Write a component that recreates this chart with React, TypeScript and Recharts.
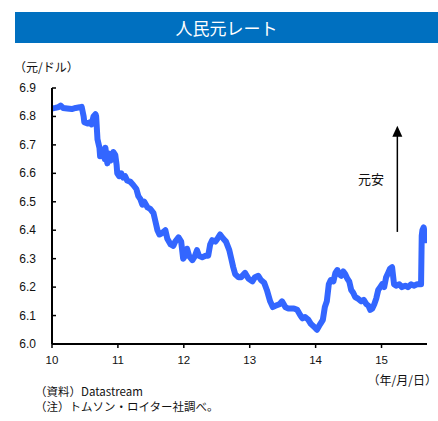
import React from "react";
import { LineChart, Line, XAxis, YAxis, ReferenceLine, ReferenceDot } from "recharts";

// decimal year (10 = 2010) and CNY per USD
const years: number[] = [
  10.0, 10.05, 10.1, 10.13, 10.17, 10.23, 10.3, 10.36, 10.42, 10.45, 10.48, 10.49, 10.54, 10.58, 10.6, 10.63, 10.66, 10.67,
  10.69, 10.72, 10.73, 10.77, 10.8, 10.81, 10.84, 10.86, 10.89, 10.92, 10.93, 10.96, 10.98, 10.99, 11.02, 11.05, 11.08,
  11.11, 11.14, 11.19, 11.23, 11.28, 11.31, 11.34, 11.37, 11.4, 11.45, 11.49, 11.54, 11.57, 11.6, 11.63, 11.67, 11.72,
  11.75, 11.8, 11.84, 11.87, 11.92, 11.96, 11.99, 12.02, 12.05, 12.08, 12.13, 12.17, 12.2, 12.23, 12.28, 12.33, 12.37,
  12.4, 12.43, 12.48, 12.51, 12.55, 12.6, 12.64, 12.69, 12.72, 12.75, 12.78, 12.83, 12.87, 12.93, 12.98, 13.04, 13.08,
  13.13, 13.17, 13.22, 13.26, 13.31, 13.35, 13.4, 13.45, 13.49, 13.54, 13.58, 13.63, 13.67, 13.72, 13.77, 13.8, 13.84,
  13.89, 13.93, 13.98, 14.02, 14.07, 14.11, 14.14, 14.17, 14.2, 14.23, 14.27, 14.3, 14.33, 14.36, 14.39, 14.42, 14.45,
  14.48, 14.51, 14.54, 14.57, 14.6, 14.64, 14.69, 14.73, 14.77, 14.8, 14.83, 14.86, 14.89, 14.92, 14.95, 14.98, 15.01,
  15.04, 15.07, 15.1, 15.13, 15.16, 15.17, 15.19, 15.22, 15.27, 15.31, 15.36, 15.4, 15.45, 15.49, 15.54, 15.58, 15.6,
  15.61, 15.62, 15.64, 15.66, 15.67, 15.68,
];
const rates: number[] = [
  6.828, 6.83, 6.833, 6.838, 6.83, 6.828, 6.826, 6.83, 6.832, 6.834, 6.8, 6.78, 6.775, 6.78, 6.772, 6.8, 6.808, 6.8,
  6.72, 6.69, 6.66, 6.68, 6.65, 6.69, 6.635, 6.67, 6.645, 6.66, 6.675, 6.665, 6.63, 6.6, 6.59, 6.6, 6.585,
  6.59, 6.575, 6.57, 6.56, 6.545, 6.52, 6.51, 6.49, 6.5, 6.48, 6.475, 6.46, 6.43, 6.4, 6.385, 6.39, 6.4,
  6.37, 6.35, 6.345, 6.36, 6.375, 6.36, 6.3, 6.31, 6.335, 6.31, 6.295, 6.31, 6.33, 6.31, 6.305, 6.31, 6.31,
  6.35, 6.365, 6.36, 6.37, 6.385, 6.37, 6.36, 6.33, 6.3, 6.27, 6.245, 6.235, 6.235, 6.25, 6.23, 6.22, 6.235,
  6.24, 6.225, 6.215, 6.19, 6.15, 6.13, 6.135, 6.14, 6.15, 6.13, 6.125, 6.125, 6.125, 6.12, 6.1, 6.09, 6.095,
  6.085, 6.07, 6.06, 6.05, 6.07, 6.085, 6.13, 6.15, 6.21, 6.225, 6.22, 6.25, 6.26, 6.245, 6.24, 6.255, 6.245,
  6.23, 6.22, 6.19, 6.18, 6.165, 6.16, 6.15, 6.155, 6.14, 6.135, 6.12, 6.125, 6.14, 6.16, 6.19, 6.2, 6.21,
  6.2, 6.235, 6.25, 6.265, 6.27, 6.25, 6.21, 6.205, 6.21, 6.2, 6.205, 6.2, 6.21, 6.205, 6.21, 6.21, 6.21,
  6.38, 6.4, 6.41, 6.38, 6.365, 6.37,
];
const xTicks: number[] = [10, 11, 12, 13, 14, 15];
const yTicks: number[] = [6.0, 6.1, 6.2, 6.3, 6.4, 6.5, 6.6, 6.7, 6.8, 6.9];
const arrowYear = 15.24;
const arrowFrom = 6.394;
const arrowTo = 6.74;
const arrowTip = 6.767;

const data = years.map((t, i) => ({ t, v: rates[i] }));

const numFont = "'Liberation Sans', Arial, sans-serif";
const jpFont = "'Noto Sans CJK JP', sans-serif";

const YTick = (props: any) => {
  const { y, payload } = props;
  return (
    <g>
      <line x1={52} y1={y} x2={56} y2={y} stroke="#000" strokeWidth={1.5} />
      <text x={36} y={y} dy={4} textAnchor="end" fontSize={12} fontFamily={numFont} fill="#111">
        {Number(payload.value).toFixed(1)}
      </text>
    </g>
  );
};

const XTick = (props: any) => {
  const { x, payload } = props;
  return (
    <text x={x} y={364} textAnchor="middle" fontSize={11.5} fontFamily={numFont} fill="#111">
      {payload.value}
    </text>
  );
};

const ArrowHead = (props: any) => {
  const { cx, cy } = props;
  if (cx == null || cy == null) return null;
  return <polygon points={`${cx},${cy} ${cx - 5},${cy + 11} ${cx + 5},${cy + 11}`} fill="#000" />;
};

export default function App() {
  return (
    <div style={{ position: "absolute", left: 0, top: 0, width: 438, height: 421, background: "#fff", overflow: "hidden" }}>
      <div
        style={{
          position: "absolute",
          left: 15,
          top: 12,
          width: 423,
          height: 31,
          background: "#0070C0",
          color: "#fff",
          fontFamily: jpFont,
          fontSize: 17,
          lineHeight: "31px",
          textAlign: "center",
        }}
      >
        人民元レート
      </div>
      <div style={{ position: "absolute", left: 14, top: 58, fontFamily: jpFont, fontSize: 12, color: "#111", whiteSpace: "nowrap" }}>
        （元/ドル）
      </div>
      <div style={{ position: "absolute", left: 358, top: 169, fontFamily: jpFont, fontSize: 13, color: "#111", whiteSpace: "nowrap" }}>
        元安
      </div>
      <div style={{ position: "absolute", right: 1, top: 371, fontFamily: jpFont, fontSize: 12, color: "#111", whiteSpace: "nowrap" }}>
        （年/月/日）
      </div>
      <div style={{ position: "absolute", left: 35, top: 384, fontFamily: jpFont, fontSize: 11.5, color: "#111", whiteSpace: "nowrap", lineHeight: "15px" }}>
        <div>（資料）Datastream</div>
        <div>（注）トムソン・ロイター社調べ。</div>
      </div>
      <div style={{ position: "absolute", left: 0, top: 0 }}>
        <LineChart width={438} height={421} data={data} margin={{ top: 88, right: 11, bottom: 47, left: 0 }}>
          <XAxis
            dataKey="t"
            type="number"
            domain={[10, 15.69]}
            ticks={xTicks}
            allowDataOverflow
            height={30}
            stroke="#000"
            axisLine={{ stroke: "#000", strokeWidth: 2 }}
            tickLine={{ stroke: "#000", strokeWidth: 1.5 }}
            tickSize={4}
            tick={<XTick />}
          />
          <YAxis
            type="number"
            domain={[6.0, 6.9]}
            ticks={yTicks}
            width={52}
            axisLine={{ stroke: "#000", strokeWidth: 2 }}
            tickLine={false}
            tick={<YTick />}
          />
          <Line
            dataKey="v"
            stroke="#3366FF"
            strokeWidth={6}
            dot={false}
            isAnimationActive={false}
            strokeLinejoin="round"
            strokeLinecap="round"
          />
          <ReferenceLine
            segment={[
              { x: arrowYear, y: arrowFrom },
              { x: arrowYear, y: arrowTo },
            ]}
            stroke="#000"
            strokeWidth={1.5}
          />
          <ReferenceDot x={arrowYear} y={arrowTip} r={0} shape={<ArrowHead />} />
        </LineChart>
      </div>
    </div>
  );
}
